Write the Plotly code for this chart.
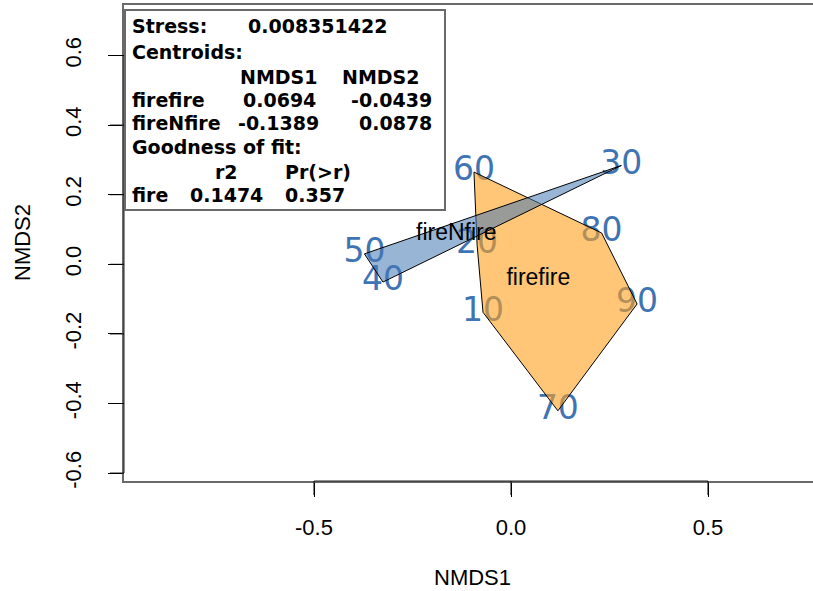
import plotly.graph_objects as go

# ---- data ----
site_labels = ["10", "20", "30", "40", "50", "60", "70", "80", "90"]
nmds1 = [-0.071, -0.086, 0.280, -0.325, -0.372, -0.094, 0.119, 0.230, 0.320]
nmds2 = [-0.138, 0.055, 0.284, -0.051, 0.030, 0.265, -0.421, 0.090, -0.114]
site_group = ["firefire", "firefire", "fireNfire", "fireNfire", "fireNfire",
              "firefire", "firefire", "firefire", "firefire"]

groups = ["firefire", "fireNfire"]
centroid_nmds1 = [0.0694, -0.1389]
centroid_nmds2 = [-0.0439, 0.0878]
stress = 0.008351422
fit_r2 = 0.1474
fit_p = 0.357

x_ticks = [-0.5, 0.0, 0.5]
y_ticks = [-0.6, -0.4, -0.2, 0.0, 0.2, 0.4, 0.6]

# ---- layout helpers ----
W, H = 813, 591
ML, MR, MT, MB = 124, 0, 5, 110
PW, PH = W - ML - MR, H - MT - MB
TICKLEN = 14


def px(xp):
    return (xp - ML) / PW


def py(yp):
    return (H - MB - yp) / PH


def hull(pts):
    pts = sorted(set(pts))
    if len(pts) < 3:
        return pts

    def cross(o, a, b):
        return (a[0] - o[0]) * (b[1] - o[1]) - (a[1] - o[1]) * (b[0] - o[0])
    lower, upper = [], []
    for p in pts:
        while len(lower) >= 2 and cross(lower[-2], lower[-1], p) <= 0:
            lower.pop()
        lower.append(p)
    for p in reversed(pts):
        while len(upper) >= 2 and cross(upper[-2], upper[-1], p) <= 0:
            upper.pop()
        upper.append(p)
    return lower[:-1] + upper[:-1]


fills = {"firefire": "rgba(255,160,30,0.6)", "fireNfire": "rgba(70,120,180,0.55)"}

fig = go.Figure()

# site labels (drawn first, hulls cover them)
fig.add_trace(go.Scatter(
    x=nmds1, y=nmds2, mode="text", text=site_labels,
    textposition="middle center",
    textfont=dict(family="DejaVu Sans", size=33, color="#3f74b4"),
    showlegend=False, hoverinfo="skip"))

for g in groups:
    pts = [(x, y) for x, y, gg in zip(nmds1, nmds2, site_group) if gg == g]
    h = hull(pts)
    h = h + [h[0]]
    fig.add_trace(go.Scatter(
        x=[p[0] for p in h], y=[p[1] for p in h], mode="lines",
        fill="toself", fillcolor=fills[g],
        line=dict(color="black", width=1),
        showlegend=False, hoverinfo="skip"))

fig.add_trace(go.Scatter(
    x=centroid_nmds1, y=centroid_nmds2, mode="text", text=groups,
    textposition="middle center",
    textfont=dict(family="Liberation Sans", size=23, color="black"),
    showlegend=False, hoverinfo="skip"))

# ---- axes ----
x0 = (124 - 511) / 394
x1 = (813 - 511) / 394
y0 = (264.3 - 481) / 348
y1 = (264.3 - 5) / 348

fig.update_xaxes(
    range=[x0, x1], tickvals=x_ticks, ticktext=[f"{v:.1f}" for v in x_ticks],
    ticks="outside", ticklen=TICKLEN, tickcolor="black", tickwidth=1,
    showgrid=False, zeroline=False,
    showline=True, linecolor="#6a6a6a", linewidth=2, mirror=True,
    tickfont=dict(family="Liberation Sans", size=22, color="black"),
    ticklabelstandoff=12)
fig.update_yaxes(
    range=[y0, y1], tickvals=y_ticks, ticktext=[f"{v:.1f}" for v in y_ticks],
    ticks="outside", ticklen=TICKLEN, tickcolor="black", tickwidth=1,
    showgrid=False, zeroline=False,
    showline=True, linecolor="#6a6a6a", linewidth=2,
    tickangle=-90,
    tickfont=dict(family="Liberation Sans", size=22, color="black"),
    ticklabelstandoff=18)

shapes = [
    # axis segments spanning tick range
    dict(type="line", xref="x", yref="paper", x0=x_ticks[0], x1=x_ticks[-1],
         y0=0, y1=0, line=dict(color="#222222", width=1)),
    dict(type="line", xref="paper", yref="y", x0=0, x1=0,
         y0=y_ticks[0], y1=y_ticks[-1], line=dict(color="#222222", width=1)),
    # info box
    dict(type="rect", xref="paper", yref="paper",
         x0=px(125), x1=px(445), y0=py(210), y1=py(10),
         line=dict(color="#6a6a6a", width=2), fillcolor="white", layer="above"),
]
# tick marks
for v in x_ticks:
    shapes.append(dict(type="line", xref="x", yref="paper", x0=v, x1=v,
                       y0=0, y1=-TICKLEN / PH, line=dict(color="black", width=1)))
for v in y_ticks:
    shapes.append(dict(type="line", xref="paper", yref="y", x0=0, x1=-TICKLEN / PW,
                       y0=v, y1=v, line=dict(color="black", width=1)))

lf = dict(family="DejaVu Sans", size=19, color="black", weight="bold")
rows = [
    (25.7, [(132, "Stress:"), (248, f"{stress:.9f}")]),
    (51.7, [(132, "Centroids:")]),
    (76.7, [(240, "NMDS1"), (342, "NMDS2")]),
    (100.0, [(132, groups[0]), (243, f"{centroid_nmds1[0]:.4f}"), (351, f"{centroid_nmds2[0]:.4f}")]),
    (123.3, [(132, groups[1]), (238, f"{centroid_nmds1[1]:.4f}"), (359, f"{centroid_nmds2[1]:.4f}")]),
    (146.7, [(132, "Goodness of fit:")]),
    (171.7, [(215, "r2"), (285, "Pr(>r)")]),
    (195.0, [(132, "fire"), (190, f"{fit_r2:.4f}"), (285, f"{fit_p:.3f}")]),
]
annotations = []
for yy, items in rows:
    for xx, t in items:
        annotations.append(dict(
            x=px(xx - 2), y=py(yy), xref="paper", yref="paper", text=t,
            showarrow=False, xanchor="left", yanchor="middle", font=lf))

annotations.append(dict(
    x=px(473), y=py(577), xref="paper", yref="paper", text="NMDS1",
    showarrow=False, xanchor="center", yanchor="middle",
    font=dict(family="Liberation Sans", size=22, color="black")))
annotations.append(dict(
    x=px(22), y=py(243), xref="paper", yref="paper", text="NMDS2",
    showarrow=False, xanchor="center", yanchor="middle", textangle=-90,
    font=dict(family="Liberation Sans", size=22, color="black")))

fig.update_layout(
    width=W, height=H,
    margin=dict(l=ML, r=MR, t=MT, b=MB),
    paper_bgcolor="white", plot_bgcolor="white",
    shapes=shapes, annotations=annotations, showlegend=False)

fig.write_html("out.html")
